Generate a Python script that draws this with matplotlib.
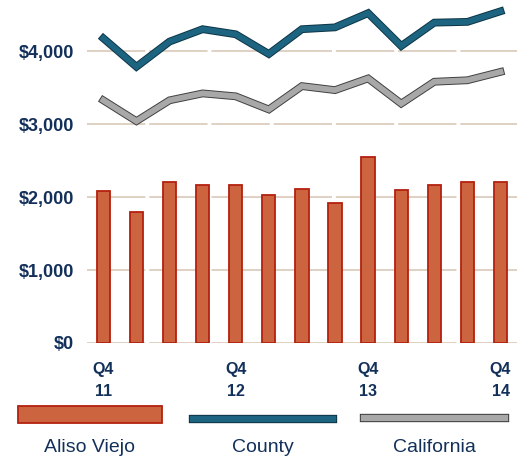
import matplotlib
matplotlib.use("Agg")
import matplotlib.pyplot as plt
import matplotlib.patheffects as pe
from matplotlib.patches import Rectangle
from matplotlib.lines import Line2D
import numpy as np

# quarterly values, Q4 2011 .. Q4 2014
quarters = ["Q4\n11", "", "", "", "Q4\n12", "", "", "", "Q4\n13", "", "", "", "Q4\n14"]
aliso_viejo = [2080, 1800, 2200, 2170, 2170, 2030, 2110, 1920, 2550, 2090, 2170, 2200, 2200]
county = [4175, 3785, 4130, 4300, 4230, 3960, 4300, 4325, 4520, 4070, 4390, 4400, 4545]
california = [3325, 3040, 3325, 3420, 3380, 3200, 3520, 3465, 3625, 3280, 3580, 3600, 3715]
yticks = [0, 1000, 2000, 3000, 4000]
ytick_labels = ["$0", "$1,000", "$2,000", "$3,000", "$4,000"]

navy = "#13305a"
bar_fill = "#cc6440"
bar_edge = "#b3200f"
county_col = "#1d6480"
ca_col = "#a8a8a8"
grid_col = "#dfd0c2"

plt.rcParams["font.family"] = ["Liberation Sans Narrow", "Liberation Sans", "DejaVu Sans"]

fig = plt.figure(figsize=(5.26, 4.61), dpi=100)
ax = fig.add_axes([0.165, 0.256, 0.818, 0.744])

x = np.arange(len(aliso_viejo))
for t in yticks:
    ax.axhline(t, color=grid_col, lw=1.4, ls=(0, (30, 2)), zorder=0)

ax.bar(x, aliso_viejo, width=0.4, color=bar_fill, edgecolor=bar_edge, linewidth=1.3, zorder=2)
ax.plot(x, county, color=county_col, lw=4.2, solid_joinstyle="miter", zorder=3,
        path_effects=[pe.Stroke(linewidth=5.6, foreground="#0c3547"), pe.Normal()])
ax.plot(x, california, color=ca_col, lw=4.2, solid_joinstyle="miter", zorder=3,
        path_effects=[pe.Stroke(linewidth=5.6, foreground="#404040"), pe.Normal()])

ax.set_xlim(-0.5, 12.5)
ax.set_ylim(0, 4700)
ax.set_yticks(yticks)
ax.set_yticklabels(ytick_labels, fontsize=13, fontweight="bold", color=navy)
ax.set_xticks(x)
ax.set_xticklabels(quarters, fontsize=11.5, fontweight="bold", color=navy, linespacing=1.55)
ax.tick_params(length=0, pad=9)
ax.tick_params(axis="x", pad=14)
for s in ax.spines.values():
    s.set_visible(False)

# legend drawn below the axis
W, H = 526, 461
fig.add_artist(Rectangle((18 / W, 1 - 423 / H), 144 / W, 17 / H, transform=fig.transFigure,
                         facecolor=bar_fill, edgecolor=bar_edge, linewidth=1.3))
fig.add_artist(Line2D([193 / W, 333 / W], [1 - 419 / H] * 2, transform=fig.transFigure,
                      color=county_col, lw=4.5,
                      path_effects=[pe.Stroke(linewidth=6, foreground="#0c3547"), pe.Normal()]))
fig.add_artist(Line2D([364 / W, 505 / W], [1 - 418 / H] * 2, transform=fig.transFigure,
                      color=ca_col, lw=4.5,
                      path_effects=[pe.Stroke(linewidth=6, foreground="#404040"), pe.Normal()]))
for cx, name in [(90, "Aliso Viejo"), (263, "County"), (434, "California")]:
    fig.text(cx / W, 1 - 447 / H, name, ha="center", va="center", fontsize=14, color=navy)

fig.savefig("out.png", dpi=100)
